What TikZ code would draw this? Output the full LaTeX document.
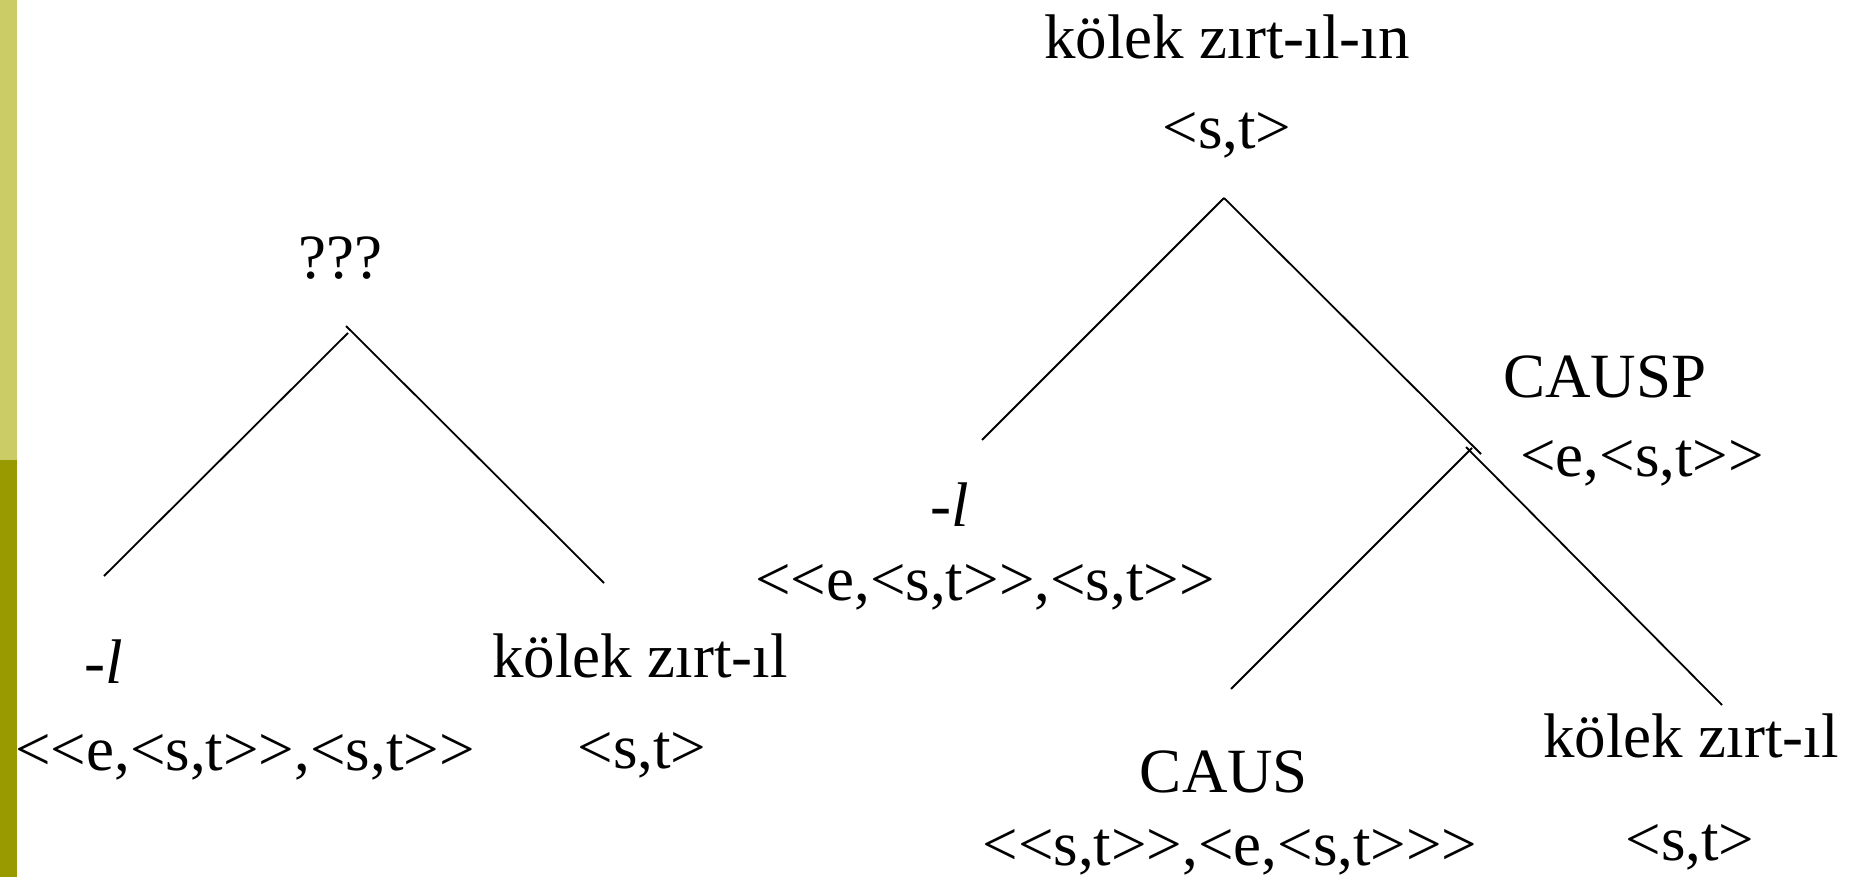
\documentclass[tikz,border=0pt]{standalone}
\usepackage{fontspec}
\setmainfont{Liberation Serif}[Ligatures=TeXOff]
\definecolor{barlight}{RGB}{204,204,102}
\definecolor{bardark}{RGB}{153,153,0}
\begin{document}
\begin{tikzpicture}[x=1pt,y=-1pt,
  lbl/.style={anchor=base,inner sep=0pt,outer sep=0pt,font=\fontsize{63}{70}\selectfont},
  branch/.style={line width=1.8pt,line cap=butt}]
\useasboundingbox (0,0) rectangle (1861,877);
% side bar
\fill[barlight] (0,0) rectangle (17,460);
\fill[bardark] (0,460) rectangle (17,877);

% ---- left tree ----
\node[lbl] (q) at (340,279) {???};
\node[lbl] (lA) at (104,683) {\textit{-l}};
\node[lbl] (lAt) at (245,770) {<<e,<s,t>>,<s,t>>};
\node[lbl] (kA) at (640,677) {kölek zırt-ıl};
\node[lbl] (kAt) at (642,768) {<s,t>};
\coordinate (qL) at (348,333);
\coordinate (qR) at (346,326);
\coordinate (lAend) at (104,576);
\coordinate (kAend) at (604,583);
\draw[branch] (qL) -- (lAend);
\draw[branch] (qR) -- (kAend);

% ---- right tree ----
\node[lbl] (top) at (1227,59) {kölek zırt-ıl-ın};
\node[lbl] (topt) at (1227,149) {<s,t>};
\node[lbl] (lB) at (950,526) {\textit{-l}};
\node[lbl] (lBt) at (985,600) {<<e,<s,t>>,<s,t>>};
\node[lbl] (cp) at (1605,397) {CAUSP};
\node[lbl] (cpt) at (1642,476) {<e,<s,t>>};
\node[lbl] (c) at (1224,792) {CAUS};
\node[lbl] (ct) at (1230,865) {<<s,t>>,<e,<s,t>>>};
\node[lbl] (kB) at (1691,757) {kölek zırt-ıl};
\node[lbl] (kBt) at (1690,860) {<s,t>};
\coordinate (apex) at (1224,198);
\coordinate (lBend) at (982,440);
\coordinate (cpTop) at (1481,454);
\coordinate (cpR) at (1466,447);
\coordinate (cpL) at (1472,448);
\coordinate (kBend) at (1722,705);
\coordinate (cEnd) at (1231,689);
\draw[branch] (apex) -- (lBend);
\draw[branch] (apex) -- (cpTop);
\draw[branch] (cpR) -- (kBend);
\draw[branch] (cpL) -- (cEnd);
\end{tikzpicture}
\end{document}
